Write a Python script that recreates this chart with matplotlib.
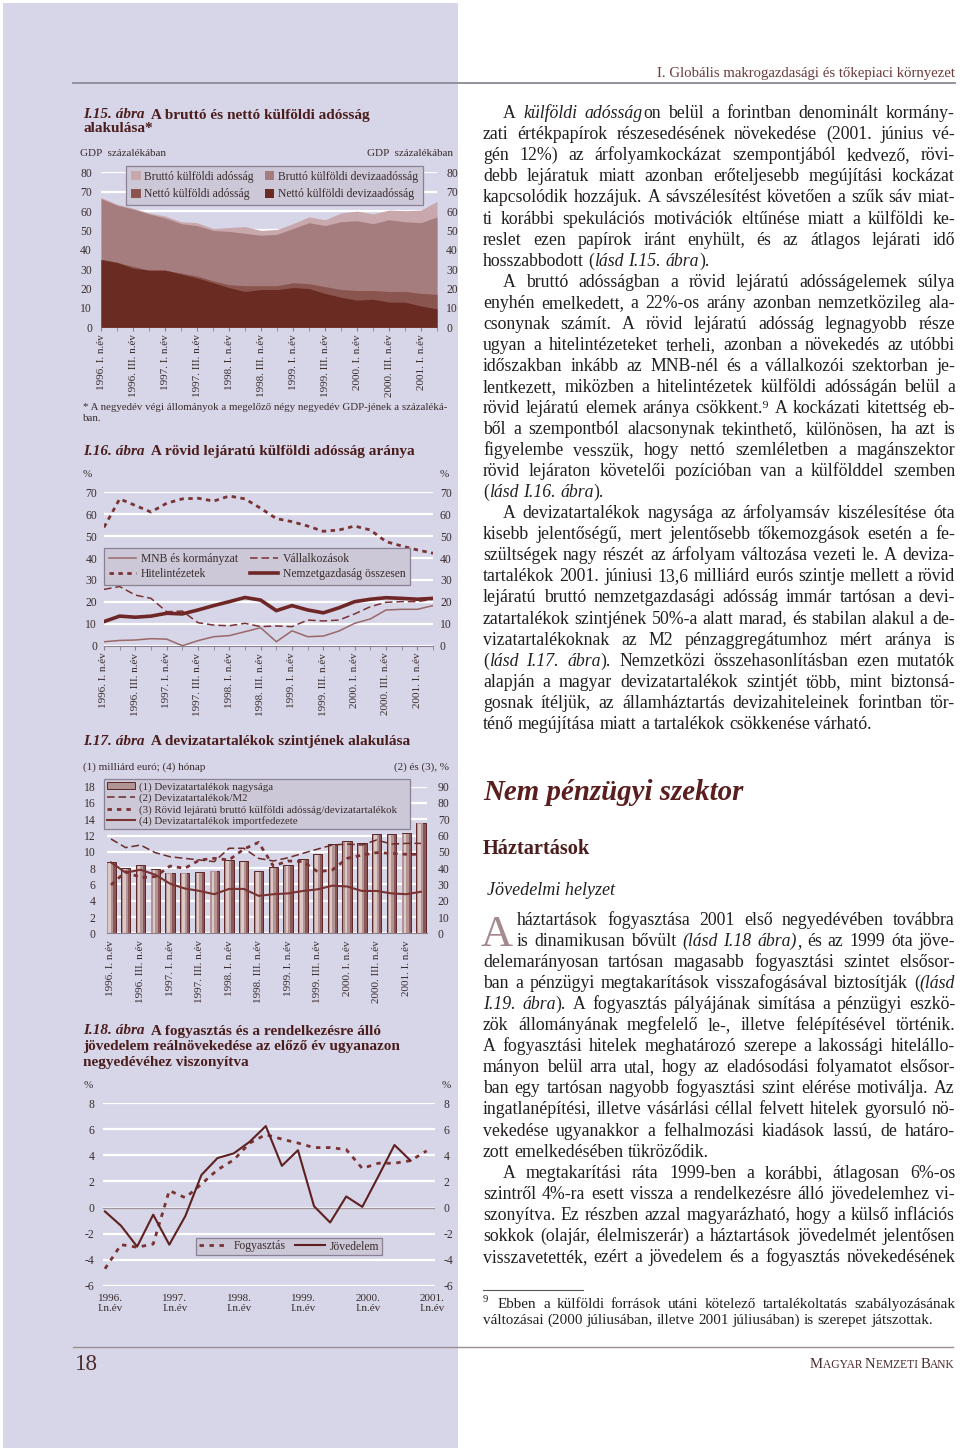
import numpy as np
import matplotlib
matplotlib.use('Agg')
import matplotlib.pyplot as plt
from matplotlib.patches import Rectangle, Patch
from matplotlib.lines import Line2D
from matplotlib.font_manager import FontProperties

FAM = ['Liberation Serif', 'DejaVu Serif']
plt.rcParams['font.family'] = FAM
plt.rcParams['axes.unicode_minus'] = False

# ---------------- data ----------------
quarters = np.arange(22)   # 1996 Q1 .. 2001 Q2
half_labels = ['1996. I. n.év', '1996. III. n.év', '1997. I. n.év', '1997. III. n.év',
               '1998. I. n.év', '1998. III. n.év', '1999. I. n.év', '1999. III. n.év',
               '2000. I. n.év', '2000. III. n.év', '2001. I. n.év']

# I.15 (GDP %)
brutto_adossag = [67, 63.5, 61.5, 59, 57.5, 54.5, 54, 51, 51.5, 52, 50, 50.5,
                  53.5, 57, 55.5, 59, 60, 58.5, 60.5, 60.2, 60.5, 65]
brutto_deviza = [66.5, 63, 61, 58.5, 56.5, 53.5, 52.5, 50, 49.5, 48.5, 47.5, 48,
                 51, 54, 52.5, 54.5, 55, 53.5, 55.5, 54.5, 54, 57]
netto_adossag = [35, 33.5, 31.5, 29.5, 29.5, 28, 26.5, 24, 22, 21.5, 21.5, 21.5,
                 23, 22.5, 21, 19.5, 19, 19, 18.5, 18.5, 17.5, 17]
netto_deviza = [35, 33.5, 30.5, 29.5, 29.5, 27.5, 25.5, 23, 20.5, 18.5, 19.5, 19.5,
                20.5, 20, 17.5, 15.5, 14, 14.5, 13, 13, 11, 9.5]

# I.16 (%)
mnb_korm = [1.8, 2.4, 2.6, 3.2, 3, 0, 2.3, 4.1, 4.6, 6.4, 8.2, 1.8,
            6.8, 4.1, 4.4, 6.7, 10.2, 12.2, 16.3, 16.6, 16.6, 18.3]
vallalkozasok = [25.7, 27, 23.1, 21.6, 15.5, 15.8, 10.5, 9.4, 9.1, 10.2, 8.7, 9,
                 8.7, 11.7, 11.3, 11.7, 14.5, 17.8, 19.8, 20.1, 20.1, 21.2]
hitelint = [54, 67, 64, 61, 65, 67, 67.3, 66, 68.3, 67, 62.7, 58,
            56.6, 54.6, 52.2, 52.8, 54.6, 52.8, 47.5, 45.5, 43.7, 42.2]
nemzetg = [11, 13.5, 13, 13.5, 14.8, 14.5, 16.3, 18.3, 20.1, 22, 20.8, 16,
           18.3, 16.3, 15, 17.3, 20.1, 21.2, 21.9, 21.6, 21.2, 21.6]

# I.17
tartalek = [8.7, 8.0, 8.4, 7.9, 7.45, 7.45, 7.5, 7.7, 9.0, 8.9, 7.6, 8.1,
            8.35, 9.1, 9.75, 10.95, 11.35, 11.1, 12.15, 12.15, 12.3, 13.6]
tartalek_m2 = [57.9, 52.6, 54.2, 49.5, 47, 46, 45, 44, 52.2, 52.2, 46, 44.4,
               46.4, 49.1, 51.7, 54.2, 54.8, 54.2, 57.3, 54.8, 55.2, 55.2]
rovid_tartalek = [29.7, 37.8, 34.2, 34.8, 41.3, 39.9, 45, 46, 45, 51.7, 55.8, 41.3,
                  44.4, 44, 37.8, 38.9, 46, 48, 49.5, 49.1, 48.5, 48.5]
importfedezet = [8.7, 7.45, 7.8, 7.2, 6.1, 5.5, 5.2, 4.8, 5.45, 5.45, 4.6, 4.8,
                 4.9, 5.2, 5.4, 5.85, 5.75, 5.2, 5.2, 4.9, 4.8, 5.1]

# I.18 (1996 Q1 ..)
fogyasztas = [-4.7, -2.85, -3.05, -2.8, 1.3, 0.75, 1.8, 2.9, 3.65, 4.95, 5.6,
              5.25, 4.95, 4.6, 4.6, 4.45, 3.0, 3.4, 3.4, 3.6, 4.35]
jovedelem = [-0.3, -1.4, -3.0, -0.55, -2.85, -0.65, 2.5, 3.8, 4.15, 5.05, 6.25,
             3.2, 4.4, 0.1, -1.15, 0.85, 0.05, 2.4, 4.8, 3.6]
year_labels = ['1996.\nI.n.év', '1997.\nI.n.év', '1998.\nI.n.év',
               '1999.\nI.n.év', '2000.\nI.n.év', '2001.\nI.n.év']

# ---------------- page ----------------
W, H = 960, 1453
fig = plt.figure(figsize=(W / 100, H / 100), dpi=100)
fig.patch.set_facecolor('white')
R = fig.canvas.get_renderer()

def fx(x): return x / W
def fy(y): return 1 - y / H

def fp(size, weight='normal', style='normal'):
    return FontProperties(family=FAM, size=size, weight=weight, style=style)

def tw(s, prop):
    return R.get_text_width_height_descent(s, prop, ismath=False)[0]

def fit(s, target, weight='normal', style='normal'):
    return 10 * target / tw(s, fp(10, weight, style))

def put(x, y, s, prop, color, ha='left'):
    fig.text(fx(x), fy(y), s, fontproperties=prop, color=color, ha=ha, va='baseline')

def axes_px(x0, y0, x1, y1):
    ax = fig.add_axes([fx(x0), fy(y1), (x1 - x0) / W, (y1 - y0) / H])
    ax.set_facecolor('none')
    for s in ax.spines.values():
        s.set_visible(False)
    return ax

def bbox_px(x0, y0, x1, y1):
    return (fx(x0), fy(y1), (x1 - x0) / W, (y1 - y0) / H)

SIDE = '#d6d6e8'
TITLE_C = '#4b1d1d'
LAB_C = '#3a2c2c'
BODY_C = '#231f20'
BROWN = '#7a3232'
LEG_FACE = '#ccc8d8'
LEG_EDGE = '#8a8292'

fig.add_artist(Rectangle((fx(3), fy(1448)), 455 / W, 1445 / H, transform=fig.transFigure,
                         facecolor=SIDE, lw=0, zorder=-5))

tick_sz = fit('1996. III. n.év', 63)
num_sz = 8.4
leg_sz = fit('MNB és kormányzat', 97)
title_sz = fit('I.16. ábra  A rövid lejáratú külföldi adósság aránya', 335, weight='bold')
small_sz = fit('GDP  százalékában', 87)

def chart_title(lines, x, y0, dy=15.7):
    for k, parts in enumerate(lines):
        xx = x
        for s, style in parts:
            prop = fp(title_sz, 'bold', style)
            put(xx, y0 + k * dy, s, prop, TITLE_C)
            xx += tw(s, prop)

def style_axis(ax, lpad):
    ax.tick_params(axis='y', length=0, labelsize=num_sz, colors=LAB_C, pad=lpad)
    ax.yaxis.grid(True, color='white', lw=1.6)
    ax.set_axisbelow(True)

def quarter_xaxis(ax, pad=2):
    ax.set_xticks(np.arange(0, 22, 2))
    ax.set_xticklabels(half_labels, rotation=90, fontsize=tick_sz, color=LAB_C, va='top')
    ax.set_xticks(quarters, minor=True)
    ax.tick_params(axis='x', which='both', length=3, color='#8a8090', direction='out', pad=pad)

def style_legend(leg):
    leg.get_frame().set_facecolor(LEG_FACE)
    leg.get_frame().set_edgecolor(LEG_EDGE)
    leg.get_frame().set_linewidth(0.9)
    for t in leg.get_texts():
        t.set_color(LAB_C)

# ---------------- I.15 ----------------
chart_title([[('I.15. ábra', 'italic'), ('  A bruttó és nettó külföldi adósság', 'normal')],
             [('alakulása*', 'normal')]], 83, 118.5, 14)
put(80, 156, 'GDP  százalékában', fp(small_sz), LAB_C)
put(453, 156, 'GDP  százalékában', fp(small_sz), LAB_C, ha='right')

ax = axes_px(101, 172.3, 437, 327.3)
c1, c2, c3, c4 = '#c8a8ad', '#a67d7e', '#8b554f', '#6a2b22'
ax.fill_between(quarters, 0, brutto_adossag, color=c1, lw=0, label='Bruttó külföldi adósság')
ax.fill_between(quarters, 0, brutto_deviza, color=c2, lw=0, label='Bruttó külföldi devizaadósság')
ax.fill_between(quarters, 0, netto_adossag, color=c3, lw=0, label='Nettó külföldi adósság')
ax.fill_between(quarters, 0, netto_deviza, color=c4, lw=0, label='Nettó külföldi devizaadósság')
ax.set_xlim(0, 21)
ax.set_ylim(0, 80)
ax.set_yticks(range(0, 81, 10))
style_axis(ax, 6.5)
ax.tick_params(axis='y', labelright=True)
quarter_xaxis(ax, pad=2)
h, l = ax.get_legend_handles_labels()
order = [0, 2, 1, 3]
leg = ax.legend([h[i] for i in order], [l[i] for i in order], ncol=2, loc='center',
                bbox_to_anchor=bbox_px(126, 168, 423, 203), bbox_transform=fig.transFigure,
                mode='expand', fontsize=leg_sz, frameon=True, fancybox=False, framealpha=1,
                handlelength=0.8, handleheight=0.8, handletextpad=0.3, labelspacing=0.45,
                borderpad=0.45, borderaxespad=0)
style_legend(leg)

fn_sz = fit('* A negyedév végi állományok a megelőző négy negyedév GDP-jének a százaléká-', 365)
put(83, 409.5, '* A negyedév végi állományok a megelőző négy negyedév GDP-jének a százaléká-',
    fp(fn_sz), LAB_C)
put(83, 421, 'ban.', fp(fn_sz), LAB_C)

# ---------------- I.16 ----------------
chart_title([[('I.16. ábra', 'italic'), ('  A rövid lejáratú külföldi adósság aránya', 'normal')]],
            83, 455)
put(83, 477, '%', fp(small_sz), LAB_C)
put(440, 477, '%', fp(small_sz), LAB_C)

ax = axes_px(104, 492.3, 433, 645.7)
ax.plot(quarters, mnb_korm, color='#9a6868', lw=1.1, label='MNB és kormányzat')
ax.plot(quarters, hitelint, color=BROWN, lw=2.0, dashes=(1.6, 1.6), label='Hitelintézetek')
ax.plot(quarters, vallalkozasok, color=BROWN, lw=1.1, dashes=(5, 2.5), label='Vállalkozások')
ax.plot(quarters, nemzetg, color='#6e2626', lw=2.6, label='Nemzetgazdaság összesen')
ax.set_xlim(0, 21)
ax.set_ylim(0, 70)
ax.set_yticks(range(0, 71, 10))
style_axis(ax, 5)
ax.tick_params(axis='y', labelright=True)
ax.spines['bottom'].set_visible(True)
ax.spines['bottom'].set_color('#8a8090')
ax.spines['bottom'].set_linewidth(0.8)
quarter_xaxis(ax, pad=2)
leg = ax.legend(ncol=2, loc='center',
                bbox_to_anchor=bbox_px(104, 551, 410, 582), bbox_transform=fig.transFigure,
                mode='expand', fontsize=leg_sz, frameon=True, fancybox=False, framealpha=1,
                handlelength=2.4, handletextpad=0.4, labelspacing=0.3,
                borderpad=0.4, borderaxespad=0)
style_legend(leg)

# ---------------- I.17 ----------------
chart_title([[('I.17. ábra', 'italic'), ('  A devizatartalékok szintjének alakulása', 'normal')]],
            83, 745)
put(83, 769.5, '(1) milliárd euró; (4) hónap', fp(small_sz), LAB_C)
put(449, 769.5, '(2) és (3), %', fp(small_sz), LAB_C, ha='right')

ax = axes_px(106.7, 786.7, 426.7, 933.3)
tv = np.array(tartalek)
ax.bar(quarters, tv, width=0.63, color='#8e5757', edgecolor='#5b2626', lw=0.7, zorder=2)
ax.bar(quarters - 0.05, tv - 0.1, width=0.42, color='#b39494', lw=0, zorder=2.1)
ax.bar(quarters - 0.09, tv - 0.12, width=0.17, color='#ddc8c8', lw=0, zorder=2.2)
ax.plot(quarters, importfedezet, color=BROWN, lw=1.5, zorder=4)
ax.set_xlim(-0.29, 21.39)
ax.set_ylim(0, 18)
ax.set_yticks(range(0, 19, 2))
style_axis(ax, 8)
ax.spines['bottom'].set_visible(True)
ax.spines['bottom'].set_color('#8a8090')
ax.spines['bottom'].set_linewidth(0.8)
ax.set_xticks(np.arange(0, 22, 2))
ax.set_xticklabels(half_labels, rotation=90, fontsize=tick_sz, color=LAB_C, va='top')
ax.tick_params(axis='x', length=0, pad=5)
ax2 = ax.twinx()
ax2.set_facecolor('none')
for s in ax2.spines.values():
    s.set_visible(False)
ax2.plot(quarters, tartalek_m2, color='#6b2a2a', lw=1.1, dashes=(5, 2.5))
ax2.plot(quarters, rovid_tartalek, color=BROWN, lw=2.0, dashes=(1.6, 1.8))
ax2.set_ylim(0, 90)
ax2.set_yticks(range(0, 91, 10))
ax2.tick_params(axis='y', length=0, labelsize=num_sz, colors=LAB_C, pad=8)
hand = [Patch(facecolor='#b39494', edgecolor='#5b2626', lw=0.7),
        Line2D([], [], color='#6b2a2a', lw=1.1, dashes=(5, 2.5)),
        Line2D([], [], color=BROWN, lw=2.0, dashes=(1.6, 1.8)),
        Line2D([], [], color=BROWN, lw=1.5)]
labs = ['(1) Devizatartalékok nagysága', '(2) Devizatartalékok/M2',
        '(3) Rövid lejáratú bruttó külföldi adósság/devizatartalékok',
        '(4) Devizatartalékok importfedezete']
leg17_sz = min(leg_sz, fit(labs[2], 255))
leg = ax2.legend(hand, labs, ncol=1, loc='center',
                 bbox_to_anchor=bbox_px(104, 778, 410, 830), bbox_transform=fig.transFigure,
                 mode='expand', fontsize=leg17_sz, frameon=True, fancybox=False, framealpha=1,
                 handlelength=2.6, handleheight=0.7, handletextpad=0.3, labelspacing=0.15,
                 borderpad=0.3, borderaxespad=0)
style_legend(leg)

# ---------------- I.18 ----------------
chart_title([[('I.18. ábra', 'italic'), ('  A fogyasztás és a rendelkezésre álló', 'normal')],
             [('jövedelem reálnövekedése az előző év ugyanazon', 'normal')],
             [('negyedévéhez viszonyítva', 'normal')]], 83, 1034.5, 15.7)
put(84, 1088, '%', fp(small_sz), LAB_C)
put(442, 1088, '%', fp(small_sz), LAB_C)

ax = axes_px(102.7, 1103.3, 435, 1285.7)
ax.plot(np.arange(len(fogyasztas)), fogyasztas, color=BROWN, lw=2.0, dashes=(1.6, 2.0),
        label='Fogyasztás')
ax.plot(np.arange(len(jovedelem)), jovedelem, color='#5e2020', lw=1.5, label='Jövedelem')
ax.axhline(0, color='#9d9399', lw=1.0, zorder=1)
ax.set_xlim(-0.14, 20.52)
ax.set_ylim(-6, 8)
ax.set_yticks(range(-6, 9, 2))
style_axis(ax, 6)
ax.tick_params(axis='y', labelright=True)
ax.set_xticks(np.arange(0, 21, 4) + 0.35)
ax.set_xticklabels(year_labels, fontsize=tick_sz, color=LAB_C, linespacing=1.1)
ax.tick_params(axis='x', length=0, pad=6)
leg = ax.legend(ncol=2, loc='center',
                bbox_to_anchor=(fx(289), fy(1246.5)), bbox_transform=fig.transFigure,
                fontsize=leg_sz, frameon=True, fancybox=False, framealpha=1,
                handlelength=2.6, handletextpad=0.4, borderpad=0.25, borderaxespad=0,
                columnspacing=0.8)
style_legend(leg)

# ---------------- header / footer ----------------
hdr_sz = fit('I. Globális makrogazdasági és tőkepiaci környezet', 297)
put(955, 76.5, 'I. Globális makrogazdasági és tőkepiaci környezet', fp(hdr_sz), '#6b3b3b', ha='right')
fig.add_artist(Line2D([fx(73), fx(955)], [fy(83), fy(83)], transform=fig.transFigure,
                      color='#8a8a96', lw=1.3))
fig.add_artist(Line2D([fx(73), fx(953)], [fy(1346.7), fy(1346.7)], transform=fig.transFigure,
                      color='#9a8c90', lw=1.0))
put(75, 1370, '18', fp(fit('18', 23)), '#4b2b2b')

# small caps "MAGYAR NEMZETI BANK"
sc_parts = [('M', 1), ('AGYAR ', 0), ('N', 1), ('EMZETI ', 0), ('B', 1), ('ANK', 0)]

def sc_width(b):
    return sum(tw(s, fp(b if k else b * 0.78)) for s, k in sc_parts)

big = 10 * 147 / sc_width(10)
xx = 955 - sc_width(big)
for s, k in sc_parts:
    prop = fp(big if k else big * 0.78)
    put(xx, 1367.7, s, prop, '#4b2b2b')
    xx += tw(s, prop)

# ---------------- body text ----------------
def words_of(line):
    chunks = [(p, k % 2 == 1) for k, p in enumerate(line.split('*')) if p]
    words = [[]]
    for txt, it in chunks:
        for j, p in enumerate(txt.split(' ')):
            if j > 0:
                words.append([])
            if p:
                words[-1].append((p, it))
    return [w for w in words if w]

def natural(line, size):
    props = {False: fp(size), True: fp(size, style='italic')}
    ws = words_of(line)
    sp = tw('a a', props[False]) - tw('aa', props[False])
    return sum(tw(t, props[it]) for w in ws for t, it in w) + sp * (len(ws) - 1)

def draw_line(line, x0, x1, y, size, justify, color=BODY_C):
    props = {False: fp(size), True: fp(size, style='italic')}
    ws = words_of(line)
    widths = [sum(tw(t, props[it]) for t, it in w) for w in ws]
    sp = tw('a a', props[False]) - tw('aa', props[False])
    gap = (x1 - x0 - sum(widths)) / (len(ws) - 1) if justify and len(ws) > 1 else sp
    x = x0
    for w in ws:
        for t, it in w:
            put(x, y, t, props[it], color)
            x += tw(t, props[it])
        x += gap

L, RX, IND = 483, 955, 503

col1 = [
    ('A *külföldi adósság*on belül a forintban denominált kormány-', IND, True),
    ('zati értékpapírok részesedésének növekedése (2001. június vé-', L, True),
    ('gén 12%) az árfolyamkockázat szempontjából kedvező, rövi-', L, True),
    ('debb lejáratuk miatt azonban erőteljesebb megújítási kockázat', L, True),
    ('kapcsolódik hozzájuk. A sávszélesítést követően a szűk sáv miat-', L, True),
    ('ti korábbi spekulációs motivációk eltűnése miatt a külföldi ke-', L, True),
    ('reslet ezen papírok iránt enyhült, és az átlagos lejárati idő', L, True),
    ('hosszabbodott (*lásd I.15. ábra*).', L, False),
    ('A bruttó adósságban a rövid lejáratú adósságelemek súlya', IND, True),
    ('enyhén emelkedett, a 22%-os arány azonban nemzetközileg ala-', L, True),
    ('csonynak számít. A rövid lejáratú adósság legnagyobb része', L, True),
    ('ugyan a hitelintézeteket terheli, azonban a növekedés az utóbbi', L, True),
    ('időszakban inkább az MNB-nél és a vállalkozói szektorban je-', L, True),
    ('lentkezett, miközben a hitelintézetek külföldi adósságán belül a', L, True),
    ('rövid lejáratú elemek aránya csökkent.⁹ A kockázati kitettség eb-', L, True),
    ('ből a szempontból alacsonynak tekinthető, különösen, ha azt is', L, True),
    ('figyelembe vesszük, hogy nettó szemléletben a magánszektor', L, True),
    ('rövid lejáraton követelői pozícióban van a külfölddel szemben', L, True),
    ('(*lásd I.16. ábra*).', L, False),
    ('A devizatartalékok nagysága az árfolyamsáv kiszélesítése óta', IND, True),
    ('kisebb jelentőségű, mert jelentősebb tőkemozgások esetén a fe-', L, True),
    ('szültségek nagy részét az árfolyam változása vezeti le. A deviza-', L, True),
    ('tartalékok 2001. júniusi 13,6 milliárd eurós szintje mellett a rövid', L, True),
    ('lejáratú bruttó nemzetgazdasági adósság immár tartósan a devi-', L, True),
    ('zatartalékok szintjének 50%-a alatt marad, és stabilan alakul a de-', L, True),
    ('vizatartalékoknak az M2 pénzaggregátumhoz mért aránya is', L, True),
    ('(*lásd I.17. ábra*). Nemzetközi összehasonlításban ezen mutatók', L, True),
    ('alapján a magyar devizatartalékok szintjét több, mint biztonsá-', L, True),
    ('gosnak ítéljük, az államháztartás devizahiteleinek forintban tör-', L, True),
    ('ténő megújítása miatt a tartalékok csökkenése várható.', L, False),
]
col2 = [
    ('háztartások fogyasztása 2001 első negyedévében továbbra', 517, True),
    ('is dinamikusan bővült *(lásd I.18 ábra)*, és az 1999 óta jöve-', 517, True),
    ('delemarányosan tartósan magasabb fogyasztási szintet elsősor-', L, True),
    ('ban a pénzügyi megtakarítások visszafogásával biztosítják (*(lásd*', L, True),
    ('*I.19. ábra*). A fogyasztás pályájának simítása a pénzügyi eszkö-', L, True),
    ('zök állományának megfelelő le-, illetve felépítésével történik.', L, True),
    ('A fogyasztási hitelek meghatározó szerepe a lakossági hitelállo-', L, True),
    ('mányon belül arra utal, hogy az eladósodási folyamatot elsősor-', L, True),
    ('ban egy tartósan nagyobb fogyasztási szint elérése motiválja. Az', L, True),
    ('ingatlanépítési, illetve vásárlási céllal felvett hitelek gyorsuló nö-', L, True),
    ('vekedése ugyanakkor a felhalmozási kiadások lassú, de határo-', L, True),
    ('zott emelkedésében tükröződik.', L, False),
    ('A megtakarítási ráta 1999-ben a korábbi, átlagosan 6%-os', IND, True),
    ('szintről 4%-ra esett vissza a rendelkezésre álló jövedelemhez vi-', L, True),
    ('szonyítva. Ez részben azzal magyarázható, hogy a külső inflációs', L, True),
    ('sokkok (olajár, élelmiszerár) a háztartások jövedelmét jelentősen', L, True),
    ('visszavetették, ezért a jövedelem és a fogyasztás növekedésének', L, True),
]

body_sz = min(10 * (RX - x0) / natural(s, 10) for s, x0, j in col1 + col2 if j) * 0.995
body_sz = min(body_sz, 14)

for k, (s, x0, j) in enumerate(col1):
    draw_line(s, x0, RX, 118.3 + 21.05 * k, body_sz, j)
for k, (s, x0, j) in enumerate(col2):
    draw_line(s, x0, RX, 925 + 21.05 * k, body_sz, j)

# drop cap
put(481, 946, 'A', fp(32), '#a48a8e')

# headings
put(483, 800, 'Nem pénzügyi szektor',
    fp(fit('Nem pénzügyi szektor', 260, 'bold', 'italic'), 'bold', 'italic'), '#5a1e1e')
put(483, 854.3, 'Háztartások', fp(fit('Háztartások', 108, 'bold'), 'bold'), '#4b1d1d')
put(487, 895, 'Jövedelmi helyzet', fp(fit('Jövedelmi helyzet', 128, style='italic'), style='italic'),
    BODY_C)

# footnote
fig.add_artist(Line2D([fx(483), fx(583)], [fy(1290), fy(1290)], transform=fig.transFigure,
                      color='#555', lw=0.8))
fn1 = 'Ebben a külföldi források utáni kötelező tartalékoltatás szabályozásának'
fn2 = 'változásai (2000 júliusában, illetve 2001 júliusában) is szerepet játszottak.'
fsz = 10 * (RX - 498) / natural(fn1, 10) * 0.96
put(483, 1302, '9', fp(fsz * 0.7), BODY_C)
draw_line(fn1, 498, RX, 1308, fsz, True)
draw_line(fn2, 483, RX, 1324, fsz, False)

fig.savefig('out.png', dpi=100, facecolor='white')
